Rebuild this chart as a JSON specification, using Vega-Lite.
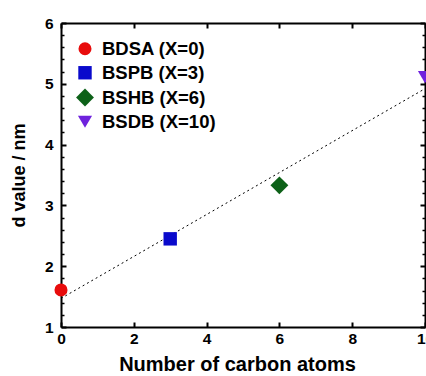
{
  "$schema": "https://vega.github.io/schema/vega-lite/v6.json",
  "width": 364,
  "height": 304,
  "autosize": {"type": "none"},
  "padding": {"left": 61, "top": 23, "right": 1, "bottom": 49},
  "background": "white",
  "config": {
    "view": {"stroke": null},
    "font": "Liberation Sans",
    "axis": {
      "grid": false,
      "labelFlush": false,
      "domainColor": "black",
      "domainWidth": 2,
      "tickColor": "black",
      "tickWidth": 2,
      "labelFont": "Liberation Sans",
      "labelFontWeight": "bold",
      "labelFontSize": 15.5,
      "labelColor": "black",
      "titleFont": "Liberation Sans",
      "titleFontWeight": "bold",
      "titleFontSize": 18,
      "titleColor": "black"
    }
  },
  "datasets": {
    "pts": [
      {"carbon": 0, "d": 1.61, "label": "BDSA (X=0)"},
      {"carbon": 3, "d": 2.45, "label": "BSPB (X=3)"},
      {"carbon": 6, "d": 3.33, "label": "BSHB (X=6)"},
      {"carbon": 10, "d": 5.11, "label": "BSDB (X=10)"}
    ],
    "fit": [
      {"carbon": 0, "d": 1.47},
      {"carbon": 10, "d": 4.92}
    ]
  },
  "layer": [
    {
      "data": {"name": "fit"},
      "mark": {"type": "line", "color": "black", "strokeWidth": 1, "strokeDash": [2, 3]},
      "encoding": {
        "x": {"field": "carbon", "type": "quantitative", "scale": {"domain": [0, 10], "nice": false},
              "axis": {"orient": "bottom", "values": [0, 2, 4, 6, 8, 10], "tickSize": -5, "labelPadding": 9, "title": "Number of carbon atoms", "titlePadding": 8, "titleFontSize": 20, "titleX": 176}},
        "y": {"field": "d", "type": "quantitative", "scale": {"domain": [1, 6], "nice": false},
              "axis": {"orient": "left", "values": [1, 2, 3, 4, 5, 6], "tickSize": -5, "labelPadding": 13, "title": "d value / nm", "titlePadding": 16, "titleFontSize": 18}}
      }
    },
    {
      "data": {"name": "pts"},
      "mark": {"type": "point", "filled": true, "opacity": 1},
      "encoding": {
        "x": {"field": "carbon", "type": "quantitative",
              "axis": {"orient": "top", "values": [0, 2, 4, 6, 8, 10], "tickSize": -5, "labels": false, "title": null}},
        "y": {"field": "d", "type": "quantitative",
              "axis": {"orient": "right", "values": [1, 2, 3, 4, 5, 6], "tickSize": -5, "labels": false, "title": null}},
        "color": {"field": "label", "type": "nominal",
                  "scale": {"domain": ["BDSA (X=0)", "BSPB (X=3)", "BSHB (X=6)", "BSDB (X=10)"], "range": ["#e80c0c", "#0a0acc", "#0d6118", "#6f22dd"]},
                  "legend": {
                    "orient": "none", "legendX": 14, "legendY": 16.5, "title": null,
                    "symbolSize": 110, "rowPadding": 5,
                    "labelFont": "Liberation Sans", "labelFontWeight": "bold", "labelFontSize": 18.5, "labelOffset": 7,
                    "encode": {"labels": {"update": {"fill": {"scale": "color", "field": "value"}}}}
                  }},
        "shape": {"field": "label", "type": "nominal",
                  "scale": {"domain": ["BDSA (X=0)", "BSPB (X=3)", "BSHB (X=6)", "BSDB (X=10)"], "range": ["circle", "square", "diamond", "triangle-down"]},
                  "legend": {
                    "orient": "none", "legendX": 14, "legendY": 16.5, "title": null,
                    "symbolSize": 110, "rowPadding": 5,
                    "labelFont": "Liberation Sans", "labelFontWeight": "bold", "labelFontSize": 18.5, "labelOffset": 7,
                    "encode": {"labels": {"update": {"fill": {"scale": "color", "field": "value"}}}}
                  }},
        "size": {"field": "label", "type": "nominal",
                 "scale": {"type": "ordinal", "domain": ["BDSA (X=0)", "BSPB (X=3)", "BSHB (X=6)", "BSDB (X=10)"], "range": [170, 180, 320, 200]},
                 "legend": null}
      }
    },
    {
      "data": {"name": "pts"},
      "mark": {"type": "point", "opacity": 0},
      "encoding": {
        "x": {"field": "carbon", "type": "quantitative", "axis": null},
        "y": {"field": "d", "type": "quantitative",
              "axis": {"orient": "left", "values": [1.2, 1.4, 1.6, 1.8, 2.2, 2.4, 2.6, 2.8, 3.2, 3.4, 3.6, 3.8, 4.2, 4.4, 4.6, 4.8, 5.2, 5.4, 5.6, 5.8], "tickSize": -3, "tickWidth": 1.5, "labels": false, "domain": false, "title": null}}
      }
    },
    {
      "data": {"name": "pts"},
      "mark": {"type": "point", "opacity": 0},
      "encoding": {
        "x": {"field": "carbon", "type": "quantitative", "axis": null},
        "y": {"field": "d", "type": "quantitative",
              "axis": {"orient": "right", "values": [1.2, 1.4, 1.6, 1.8, 2.2, 2.4, 2.6, 2.8, 3.2, 3.4, 3.6, 3.8, 4.2, 4.4, 4.6, 4.8, 5.2, 5.4, 5.6, 5.8], "tickSize": -3, "tickWidth": 1.5, "labels": false, "domain": false, "title": null}}
      }
    }
  ],
  "resolve": {"axis": {"x": "independent", "y": "independent"}}
}
